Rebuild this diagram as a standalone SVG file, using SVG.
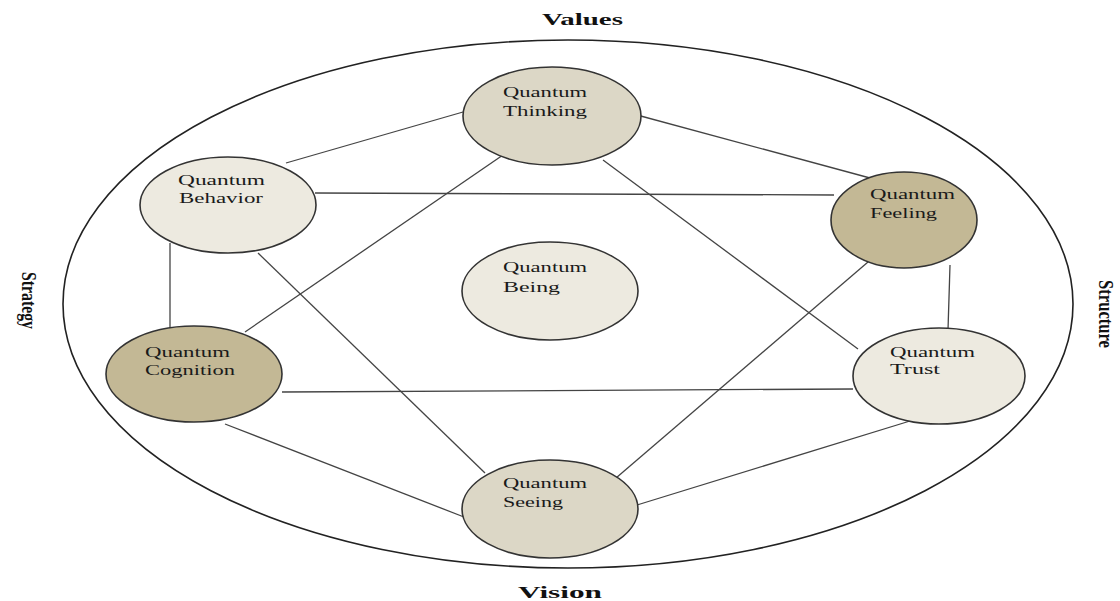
<svg xmlns="http://www.w3.org/2000/svg" width="1120" height="601" viewBox="0 0 1120 601">
<style>
.node{stroke:#333;stroke-width:1.6}
.l1{fill:#edeae0}
.l2{fill:#dcd7c6}
.l3{fill:#c3b895}
.t{font-family:"Liberation Serif","Times New Roman",serif;font-size:14px;fill:#1a1a1a}
.lab{font-family:"Liberation Serif","Times New Roman",serif;font-size:17px;font-weight:bold;fill:#111}
.side{font-family:"Liberation Serif","Times New Roman",serif;font-size:21px;font-weight:bold;fill:#111}
#edges line{stroke:#444;stroke-width:1.3}
</style>
<rect width="1120" height="601" fill="#fff"/>
<ellipse cx="568" cy="304" rx="505" ry="264" fill="none" stroke="#222" stroke-width="1.6"/>
<g id="edges">
<line x1="286" y1="163" x2="463" y2="112"/>
<line x1="637" y1="115" x2="870" y2="178"/>
<line x1="315" y1="193" x2="834" y2="195"/>
<line x1="170" y1="243" x2="170" y2="328"/>
<line x1="950" y1="265" x2="948" y2="330"/>
<line x1="282" y1="392" x2="853" y2="389"/>
<line x1="225" y1="424" x2="464" y2="517"/>
<line x1="637" y1="505" x2="910" y2="421"/>
<line x1="258" y1="253" x2="485" y2="473"/>
<line x1="245" y1="332" x2="503" y2="155"/>
<line x1="603" y1="160" x2="858" y2="349"/>
<line x1="868" y1="262" x2="616" y2="478"/>
</g>
<g id="thinking"><ellipse class="node l2" cx="552" cy="116" rx="89" ry="49"/>
<text class="t" x="503" y="97" textLength="84" lengthAdjust="spacingAndGlyphs">Quantum</text>
<text class="t" x="503" y="116" textLength="84" lengthAdjust="spacingAndGlyphs">Thinking</text></g>
<g id="behavior"><ellipse class="node l1" cx="228" cy="205" rx="88" ry="48"/>
<text class="t" x="178" y="185" textLength="87" lengthAdjust="spacingAndGlyphs">Quantum</text>
<text class="t" x="179" y="203" textLength="84" lengthAdjust="spacingAndGlyphs">Behavior</text></g>
<g id="feeling"><ellipse class="node l3" cx="904" cy="220" rx="73" ry="48"/>
<text class="t" x="870" y="199" textLength="85" lengthAdjust="spacingAndGlyphs">Quantum</text>
<text class="t" x="870" y="218" textLength="67" lengthAdjust="spacingAndGlyphs">Feeling</text></g>
<g id="cognition"><ellipse class="node l3" cx="194" cy="374" rx="88" ry="48"/>
<text class="t" x="145" y="357" textLength="85" lengthAdjust="spacingAndGlyphs">Quantum</text>
<text class="t" x="145" y="375" textLength="90" lengthAdjust="spacingAndGlyphs">Cognition</text></g>
<g id="trust"><ellipse class="node l1" cx="939" cy="376" rx="86" ry="48"/>
<text class="t" x="890" y="357" textLength="85" lengthAdjust="spacingAndGlyphs">Quantum</text>
<text class="t" x="890" y="374" textLength="50" lengthAdjust="spacingAndGlyphs">Trust</text></g>
<g id="seeing"><ellipse class="node l2" cx="550" cy="509" rx="88" ry="49"/>
<text class="t" x="503" y="488" textLength="84" lengthAdjust="spacingAndGlyphs">Quantum</text>
<text class="t" x="503" y="507" textLength="60" lengthAdjust="spacingAndGlyphs">Seeing</text></g>
<g id="being"><ellipse class="node l1" cx="550" cy="291" rx="88" ry="49"/>
<text class="t" x="503" y="272" textLength="84" lengthAdjust="spacingAndGlyphs">Quantum</text>
<text class="t" x="503" y="292" textLength="57" lengthAdjust="spacingAndGlyphs">Being</text></g>
<text class="lab" x="542" y="25" textLength="81" lengthAdjust="spacingAndGlyphs">Values</text>
<text class="lab" x="518" y="598" textLength="84" lengthAdjust="spacingAndGlyphs">Vision</text>
<text class="side" transform="translate(22,272) rotate(90)" textLength="57" lengthAdjust="spacingAndGlyphs">Strategy</text>
<text class="side" transform="translate(1099,280) rotate(90)" textLength="68" lengthAdjust="spacingAndGlyphs">Structure</text>
</svg>
